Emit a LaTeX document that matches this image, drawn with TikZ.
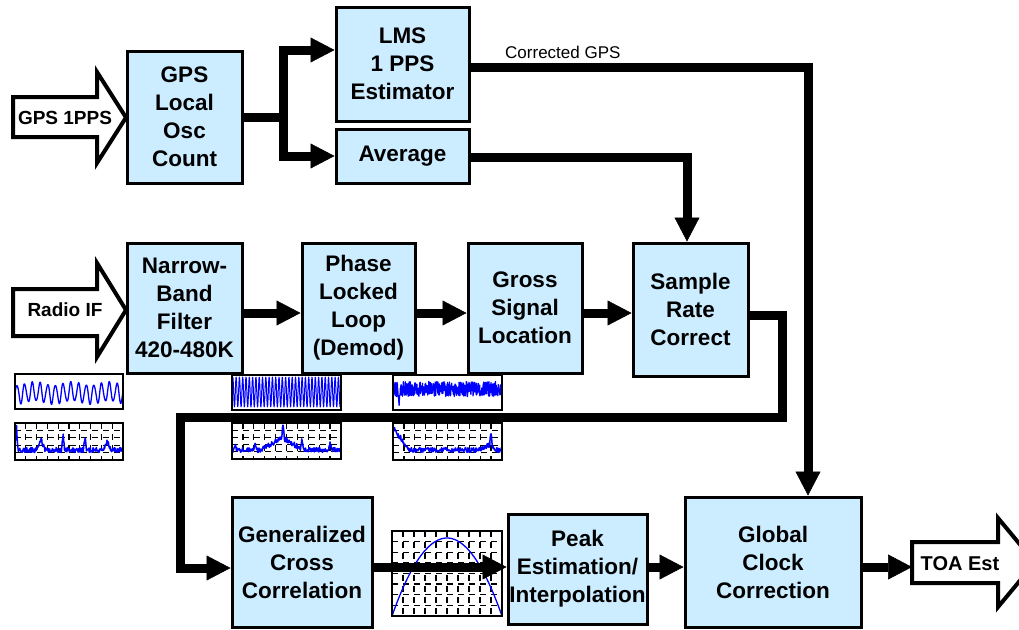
\documentclass[tikz,border=0pt]{standalone}
\usepackage{fontspec}
\setmainfont{Liberation Sans}
\usetikzlibrary{arrows.meta,calc}
\definecolor{boxblue}{RGB}{204,236,255}
\definecolor{plotblue}{RGB}{0,0,255}

% dashed grid of a small plot panel: x0 y0 x1 y1 nx ny
\newcommand\plotgrid[6]{%
  \pgfmathtruncatemacro\gnx{#5-1}\pgfmathtruncatemacro\gny{#6-1}%
  \foreach \i in {1,...,\gnx}{\draw[gridline] ({#1+\i*(#3-#1)/#5},#2) -- ({#1+\i*(#3-#1)/#5},#4);}%
  \foreach \j in {1,...,\gny}{\draw[gridline] (#1,{#2+\j*(#4-#2)/#6}) -- (#3,{#2+\j*(#4-#2)/#6});}%
}

\begin{document}
\begin{tikzpicture}[x=1pt,y=-1pt,
  block/.style={draw=black,line width=3pt,fill=boxblue,inner sep=0pt,align=center,
    font=\bfseries\fontsize{22.5}{28}\selectfont},
  flow/.style={line width=9pt,-{Triangle[length=24pt,width=25pt,line width=0.5pt]}},
  link/.style={line width=9pt},
  hollow/.style={draw=black,line width=4pt,fill=white,line join=miter},
  portlabel/.style={font=\bfseries\fontsize{19}{23}\selectfont,inner sep=0pt},
  note/.style={font=\fontsize{17}{20}\selectfont,inner sep=0pt},
  trace/.style={draw=plotblue,line width=1.5pt,line join=round},
  frame/.style={draw=black,line width=1.2pt},
  gridline/.style={draw=black,line width=1.3pt,dash pattern=on 6pt off 5pt},
]
\useasboundingbox (0,0) rectangle (1019,629);
\clip (0,0) rectangle (1019,629);

% ---------- processing blocks ----------
\node[block,minimum width=115pt,minimum height=132pt] (osc) at (184.5,117) {GPS\\Local\\Osc\\Count};
\node[block,minimum width=133pt,minimum height=114pt] (lms) at (402.5,64) {LMS\\1 PPS\\Estimator};
\node[block,minimum width=133pt,minimum height=54pt] (avg) at (402.5,156) {Average};

\node[block,minimum width=115pt,minimum height=130pt] (nbf) at (184.5,308) {Narrow-\\Band\\Filter\\420-480K};
\node[block,minimum width=113pt,minimum height=130pt] (pll) at (358.5,308) {Phase\\Locked\\Loop\\(Demod)};
\node[block,minimum width=114pt,minimum height=130pt] (gsl) at (525,308) {Gross\\Signal\\Location};
\node[block,minimum width=115pt,minimum height=133pt] (src) at (690.5,309.5) {Sample\\Rate\\Correct};

\node[block,minimum width=140pt,minimum height=130pt] (gcc) at (302,562) {Generalized\\Cross\\Correlation};
\node[block,minimum width=139pt,minimum height=110pt] (pei) at (577.5,569) {Peak\\Estimation/\\Interpolation};
\node[block,minimum width=176pt,minimum height=130pt] (gcl) at (773,562) {Global\\Clock\\Correction};

% ---------- input / output arrows ----------
\draw[hollow] (13,97) -- (97,97) -- (97,72) -- (126,117.5) -- (97,163) -- (97,137) -- (13,137) -- cycle;
\node[portlabel] (gpsin) at (65,118) {GPS 1PPS};
\draw[hollow] (13,289) -- (97,289) -- (97,263) -- (126,310) -- (97,357) -- (97,336) -- (13,336) -- cycle;
\node[portlabel] (radio) at (65,310) {Radio IF};
\draw[hollow] (912,542) -- (998,542) -- (998,518) -- (1035,562.5) -- (998,607) -- (998,583) -- (912,583) -- cycle;
\node[portlabel,font=\bfseries\fontsize{20}{24}\selectfont] (toa) at (960,564) {TOA Est};
\coordinate (toain) at (912,567);

% ---------- small signal plots ----------
\pgfmathsetseed{7}
% input signal and its spectrum
\draw[trace,line width=1.3pt] plot[domain=15:123,samples=320] (\x,{393-11.5*(0.82+0.18*sin(\x*37))*sin((\x-15)/7.7*360)});
\draw[frame] (15,374) rectangle (123,409);
\plotgrid{15}{423}{123}{460}{10}{5}
\draw[trace] plot[domain=15.6:122.4,samples=230] (\x,{450+2.5*rand-25*max(0,1-abs(\x-16.5)/1.5)-10*max(0,1-abs(\x-41)/4)-16*max(0,1-abs(\x-63)/1.5)-13*max(0,1-abs(\x-85)/1.5)-9*max(0,1-abs(\x-107)/4)});
\draw[frame] (15,423) rectangle (123,460);

% band-limited signal and its spectrum
\draw[trace,line width=1pt] plot[domain=232:341,samples=500] (\x,{392-15*sin((\x-232)/3.3*360)});
\draw[frame] (232,375) rectangle (341,410);
\plotgrid{232}{423}{341}{459}{10}{5}
\draw[trace] plot[domain=232.6:340.4,samples=230] (\x,{450+2.5*rand-12*max(0,1-abs(\x-282)/22)-14*max(0,1-abs(\x-283)/1.5)-6*max(0,1-abs(\x-235)/1.5)-8*max(0,1-abs(\x-255)/1.5)-9*max(0,1-abs(\x-302)/1.5)-8*max(0,1-abs(\x-330)/1.5)});
\draw[frame] (232,423) rectangle (341,459);

% demodulated signal and its spectrum
\draw[trace,line width=1.2pt] plot[domain=393.6:501.4,samples=520] (\x,{389+7.5*rand+12*max(0,1-abs(\x-399)/1.5)});
\draw[frame] (393,375) rectangle (502,410);
\plotgrid{393}{423}{502}{460}{10}{5}
\draw[trace] plot[domain=393.6:501.4,samples=230] (\x,{450+2.5*rand-22*max(0,1-(\x-393)/17)-5*max(0,1-abs(\x-488)/8)-14*max(0,1-abs(\x-491)/1.5)});
\draw[frame] (393,423) rectangle (502,460);

% cross-correlation peak
\plotgrid{392}{531}{502}{616}{10}{8}
\draw[trace,line width=1.3pt] plot[domain=392:502,samples=90] (\x,{538+78*((\x-447)/55)*((\x-447)/55)});
\draw[frame] (392,531) rectangle (502,616);

% ---------- connectors ----------
\coordinate (split) at (283,117);
\draw[link] (osc.east) -- (split);
\draw[flow] (split) |- ($(lms.west)+(0,-14)$);
\draw[flow] (split) |- (avg.west);

\draw[flow] ($(lms.east)+(0,3)$) -| ($(gcl.north)+(35,0)$);
\node[note,anchor=base west] (cgps) at (505,58) {Corrected GPS};
\draw[flow] ($(avg.east)+(0,1)$) -| ($(src.north)+(-3.5,0)$);

\coordinate (r2) at (0,313);
\draw[flow] (nbf.east |- r2) -- (pll.west |- r2);
\draw[flow] (pll.east |- r2) -- (gsl.west |- r2);
\draw[flow] (gsl.east |- r2) -- (src.west |- r2);

\coordinate (bendR) at (782,417);
\coordinate (bendL) at (180,417);
\draw[flow] ($(src.east)+(0,5.5)$) -| (bendR) -- (bendL) |- ($(gcc.west)+(0,6)$);

\coordinate (r3) at (0,567);
\draw[flow] (gcc.east |- r3) -- (pei.west |- r3);
\draw[flow] (pei.east |- r3) -- (gcl.west |- r3);
\draw[flow] (gcl.east |- r3) -- (toain);
\end{tikzpicture}
\end{document}
